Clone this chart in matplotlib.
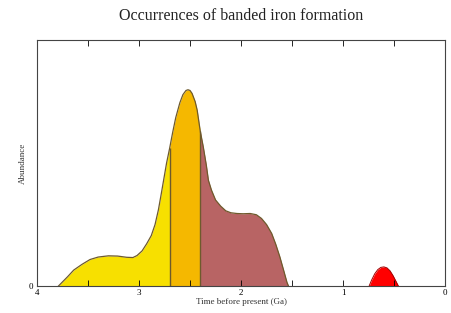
import numpy as np
import matplotlib.pyplot as plt

# =============================
# Data
# =============================
ga = [3.79, 3.70, 3.64, 3.56, 3.48, 3.40, 3.30, 3.21, 3.12, 3.06, 3.02, 2.97,
      2.925, 2.88, 2.843, 2.81, 2.78, 2.755, 2.73, 2.70, 2.67, 2.64, 2.60,
      2.57, 2.54, 2.52, 2.50, 2.48, 2.45, 2.43, 2.40, 2.37, 2.34, 2.32,
      2.29, 2.25, 2.20, 2.15, 2.10, 2.04, 1.98, 1.91, 1.85, 1.80, 1.75,
      1.70, 1.66, 1.62, 1.58, 1.55, 1.535]
abundance = [0.0, 0.038, 0.065, 0.088, 0.108, 0.118, 0.123, 0.122, 0.117, 0.116, 0.124, 0.143,
             0.172, 0.205, 0.25, 0.31, 0.38, 0.44, 0.50, 0.56, 0.625, 0.685, 0.745,
             0.778, 0.795, 0.798, 0.795, 0.783, 0.75, 0.715, 0.63, 0.565, 0.49, 0.43,
             0.39, 0.35, 0.325, 0.306, 0.298, 0.295, 0.294, 0.295, 0.29, 0.275, 0.25,
             0.214, 0.17, 0.119, 0.06, 0.015, 0.0]

red_ga = [0.745, 0.72, 0.69, 0.66, 0.63, 0.60, 0.57, 0.54, 0.51, 0.48, 0.458]
red_abund = [0.0, 0.025, 0.05, 0.067, 0.076, 0.078, 0.074, 0.062, 0.042, 0.018, 0.0]

boundaries = [2.7, 2.4]
seg_colors = ["#F7E000", "#F5B800", "#B86464"]

x = np.array(ga)
y = np.array(abundance)

fig = plt.figure(figsize=(4.51, 3.13), dpi=100)
ax = fig.add_axes([0.082, 0.086, 0.905, 0.786])

# remplissage par segment
masks = [x >= boundaries[0],
         (x <= boundaries[0]) & (x >= boundaries[1]),
         x <= boundaries[1]]
for m, c in zip(masks, seg_colors):
    ax.fill_between(x[m], 0, y[m], color=c, lw=0)

edge = "#6E5A2C"
ax.plot(x, y, color=edge, lw=0.9)
for b in boundaries:
    ax.vlines(b, 0, np.interp(b, x[::-1], y[::-1]), color=edge, lw=1.0)

ax.fill_between(red_ga, 0, red_abund, color="#FF0000", lw=0)
ax.plot(red_ga, red_abund, color="#A00000", lw=0.7)

ax.set_xlim(4, 0)
ax.set_ylim(0, 1)

serif = "Liberation Serif"
ax.set_xticks([4, 3, 2, 1, 0])
ax.set_xticks([3.5, 2.5, 1.5, 0.5], minor=True)
ax.set_xticklabels(["4", "3", "2", "1", "0"], family=serif, fontsize=6.5)
ax.set_yticks([0])
ax.set_yticklabels(["0"], family=serif, fontsize=6.5)
ax.tick_params(axis="x", which="both", direction="in", top=True, length=4, width=0.6, pad=2)
ax.tick_params(axis="y", length=0, pad=3)

for s in ax.spines.values():
    s.set_linewidth(0.8)
    s.set_color("#444444")

ax.set_xlabel("Time before present (Ga)", family=serif, fontsize=6.5, labelpad=1, color="#333333")
ax.set_ylabel("Abundance", family=serif, fontsize=6.5, labelpad=1, color="#333333")
fig.text(0.535, 0.948, "Occurrences of banded iron formation", family=serif,
         fontsize=11.5, ha="center", va="center", color="#222222")

fig.savefig("out.png", dpi=100)
